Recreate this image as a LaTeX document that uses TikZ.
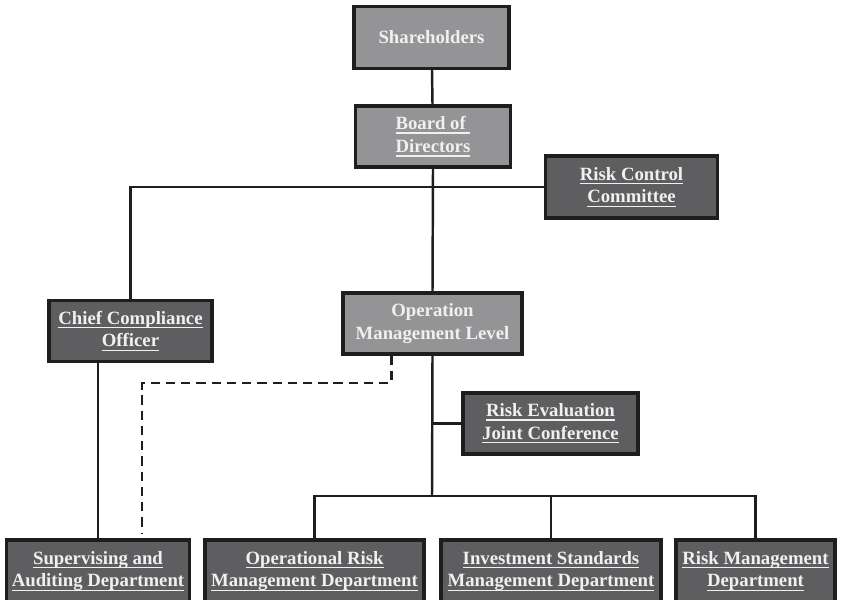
\documentclass[tikz,border=0pt]{standalone}
\usepackage{fontspec}
\setmainfont{Liberation Serif}
\newcommand{\uln}[1]{\setbox0=\hbox{#1}\leavevmode\rlap{\vrule width\wd0 height -2.3pt depth 3.5pt}\box0}
\definecolor{boxlight}{RGB}{148,148,150}
\definecolor{boxdark}{RGB}{94,94,96}
\definecolor{boxedge}{RGB}{30,30,30}
\begin{document}
\begin{tikzpicture}[x=0.03cm, y=-0.03cm,
		every node/.style={font=\fontsize{16}{19.5}\selectfont\bfseries, text=white!94!black, align=center, inner sep=2pt},
		lightbox/.style={draw=boxedge, line width=2.6pt, fill=boxlight},
		darkbox/.style={draw=boxedge, line width=2.6pt, fill=boxdark},
		link/.style={line width=2.1pt, color=boxedge},
		dashlink/.style={link, dash pattern=on 8pt off 5pt}]
		\useasboundingbox (0,0) rectangle (843,600);
		
		\node[lightbox, minimum width=4.65cm, minimum height=1.845cm] (share) at (431.5,37.5) {Shareholders};
		\node[lightbox, minimum width=4.65cm, minimum height=1.83cm] (board) at (433,136.5) {\uln{Board of\ }\\\uln{Directors}};
		\node[darkbox, minimum width=5.16cm, minimum height=1.86cm] (rcc) at (631.5,187) {\uln{Risk Control}\\\uln{Committee}};
		\node[darkbox, minimum width=4.89cm, minimum height=1.845cm] (cco) at (130.5,331) {\uln{Chief Compliance}\\\uln{Officer}};
		\node[lightbox, minimum width=5.37cm, minimum height=1.83cm] (oml) at (432.5,323.5) {Operation\\Management Level};
		\node[darkbox, minimum width=5.25cm, minimum height=1.83cm] (rejc) at (550.5,423.5) {\uln{Risk Evaluation}\\\uln{Joint Conference}};
		
		\node[darkbox, minimum width=5.49cm, minimum height=1.86cm] (sad) at (98,571) {\uln{Supervising and}\\\uln{Auditing Department}};
		\node[darkbox, minimum width=6.57cm, minimum height=1.86cm] (ormd) at (314.5,571) {\uln{Operational Risk}\\\uln{Management Department}};
		\node[darkbox, minimum width=6.6cm, minimum height=1.86cm] (ismd) at (551,571) {\uln{Investment Standards}\\\uln{Management Department}};
		\node[darkbox, minimum width=4.77cm, minimum height=1.86cm] (rmd) at (755.5,571) {\uln{Risk Management}\\\uln{Department}};
		
		\coordinate (bus) at (432,496);
		\coordinate (dcorner) at (142,383);
		\coordinate (dend) at (142,534);
		
		\draw[link] (share) -- (board);
		\draw[link] (board.south) -- (oml.north);
		\draw[link] (rcc.west) -| (cco.north);
		\draw[link] (sad.north) -- (sad.north |- cco.south);
		\draw[link] (rejc.west) -- (rejc.west -| oml.south);
		\draw[link] (oml.south) -- (bus);
		\draw[link] (ormd.north) |- (bus) -| (rmd.north);
		\draw[link] (ismd.north) -- (ismd.north |- bus);
		\draw[dashlink] (oml.south west) ++(50,0) |- (dcorner) -- (dend);
	\end{tikzpicture}
\end{document}
